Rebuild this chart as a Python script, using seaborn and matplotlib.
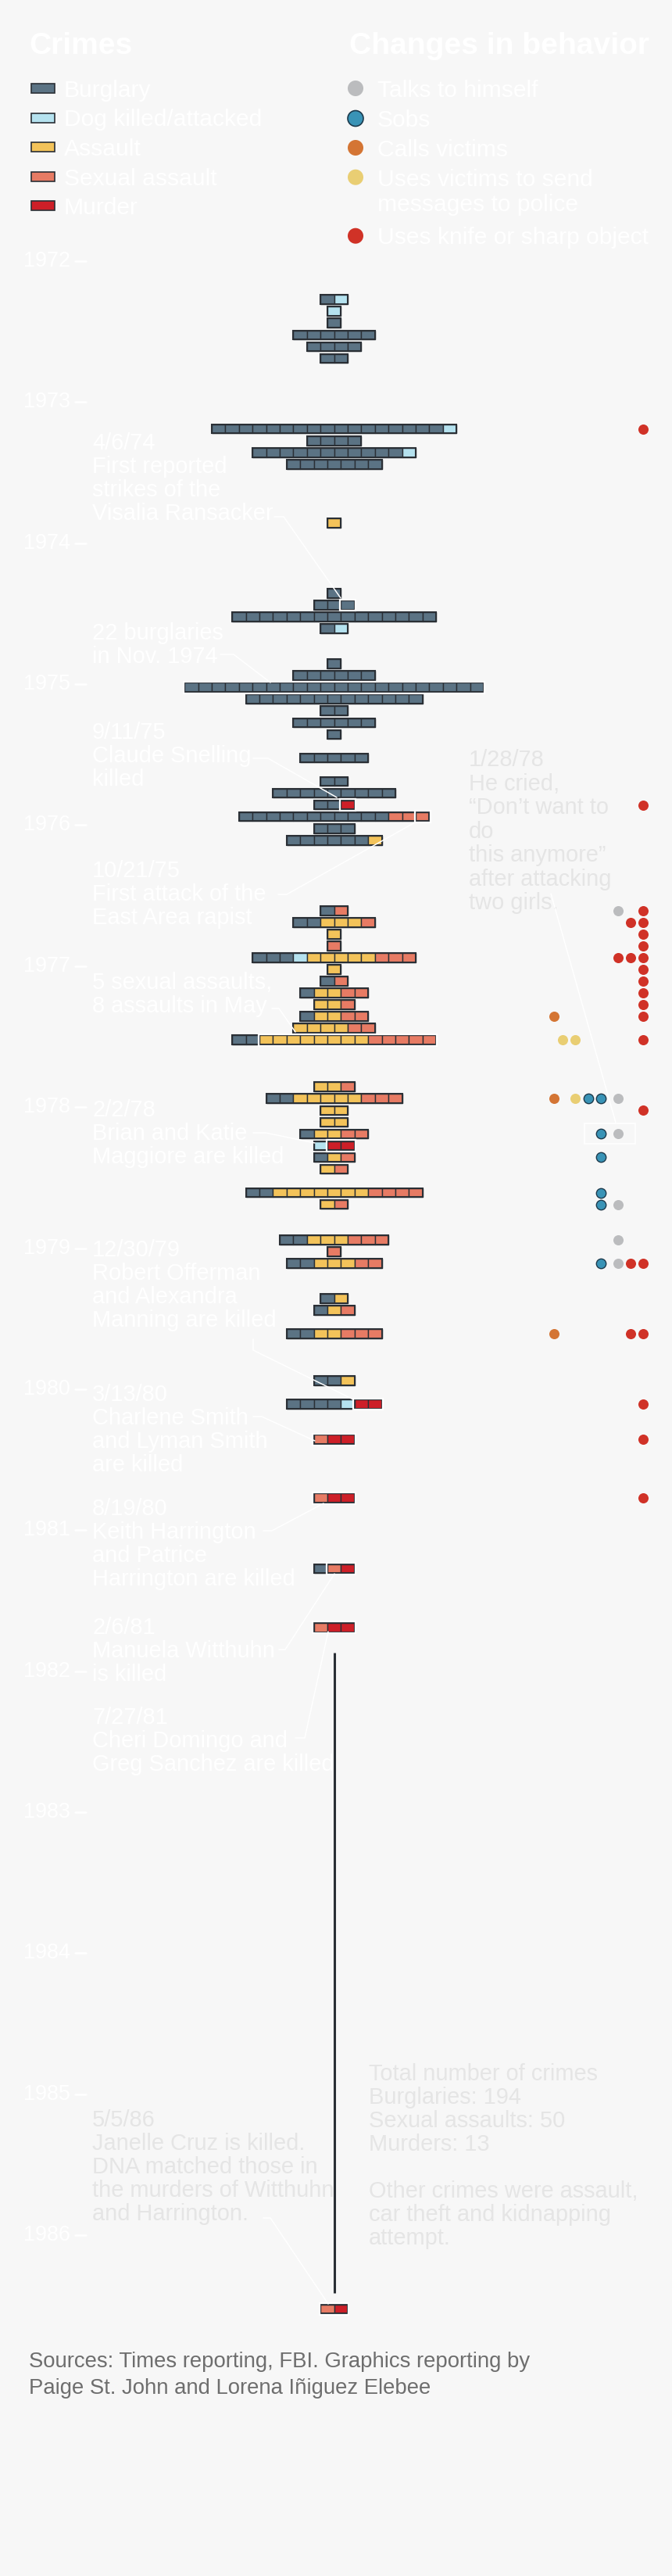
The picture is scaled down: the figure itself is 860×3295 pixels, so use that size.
import numpy as np
import pandas as pd
import matplotlib
matplotlib.use("Agg")
import matplotlib.pyplot as plt
import matplotlib.transforms as mtransforms
from matplotlib.lines import Line2D
from matplotlib.patches import Rectangle, Ellipse
from matplotlib import font_manager
import seaborn as sns

# ---------------------------------------------------------------------------
# data: one row per month with crimes (months counted from Jan 1972)
# ---------------------------------------------------------------------------
row_month = [3, 4, 5, 6, 7, 8, 14, 15, 16, 17, 22, 28, 29, 30, 31, 34, 35, 36, 37, 38,
             39, 40, 42, 44, 45, 46, 47, 48, 49, 55, 56, 57, 58, 59, 60, 61, 62, 63, 64,
             65, 66, 70, 71, 72, 73, 74, 75, 76, 77, 79, 80, 83, 84, 85, 88, 89, 91, 95,
             97, 100, 105, 111, 116, 174]
burglary = [1, 0, 1, 6, 4, 2, 17, 4, 11, 7, 0, 1, 3, 15, 1, 1, 6, 22, 13, 2,
            6, 1, 5, 2, 9, 2, 11, 3, 6, 1, 2, 0, 0, 3, 0, 1, 1, 0, 1,
            0, 2, 0, 2, 0, 0, 1, 0, 1, 0, 2, 0, 2, 0, 2, 1, 1, 2, 2,
            4, 0, 0, 1, 0, 0]
dog = [1, 1, 0, 0, 0, 0, 1, 0, 1, 0, 0, 0, 0, 0, 1, 0, 0, 0, 0, 0,
       0, 0, 0, 0, 0, 0, 0, 0, 0, 0, 0, 0, 0, 1, 0, 0, 0, 0, 0,
       0, 0, 0, 0, 0, 0, 0, 1, 0, 0, 0, 0, 0, 0, 0, 0, 0, 0, 0,
       1, 0, 0, 0, 0, 0]
assault = [0, 0, 0, 0, 0, 0, 0, 0, 0, 0, 1, 0, 0, 0, 0, 0, 0, 0, 0, 0,
           0, 0, 0, 0, 0, 0, 0, 0, 1, 0, 3, 1, 0, 5, 1, 0, 2, 2, 2,
           4, 8, 2, 5, 2, 2, 2, 0, 1, 1, 7, 1, 3, 0, 3, 1, 1, 2, 1,
           0, 0, 0, 0, 0, 0]
sexual = [0, 0, 0, 0, 0, 0, 0, 0, 0, 0, 0, 0, 0, 0, 0, 0, 0, 0, 0, 0,
          0, 0, 0, 0, 0, 0, 3, 0, 0, 1, 1, 0, 1, 3, 0, 1, 2, 1, 2,
          2, 5, 1, 3, 0, 0, 2, 0, 1, 1, 4, 1, 3, 1, 2, 0, 1, 3, 0,
          0, 1, 1, 1, 1, 1]
murder = [0, 0, 0, 0, 0, 0, 0, 0, 0, 0, 0, 0, 0, 0, 0, 0, 0, 0, 0, 0,
          0, 0, 0, 0, 0, 1, 0, 0, 0, 0, 0, 0, 0, 0, 0, 0, 0, 0, 0,
          0, 0, 0, 0, 0, 0, 0, 2, 0, 0, 0, 0, 0, 0, 0, 0, 0, 0, 0,
          2, 2, 2, 1, 2, 1]

# highlighted (annotated) crimes: month, first block in the row, number of blocks
hl_month = [29, 36, 46, 47, 66, 75, 97, 100, 105, 111, 116, 174]
hl_start = [2, 0, 2, 13, 2, 1, 5, 0, 0, 1, 0, 0]
hl_count = [1, 22, 1, 1, 13, 2, 2, 3, 3, 2, 3, 2]

# months without crimes between the 1981 and 1986 attacks
quiet_from, quiet_to = 118, 173

# changes in behaviour, counts per month
dot_month = [14, 46, 55, 56, 57, 58, 59, 60, 61, 62, 63, 64, 66, 71, 72, 74, 76, 79,
             80, 83, 85, 91, 97, 100, 105]
talks = [0, 0, 1, 0, 0, 0, 0, 0, 0, 0, 0, 0, 0, 1, 0, 1, 0, 0, 1, 1, 1, 0, 0, 0, 0]
sobs = [0, 0, 0, 0, 0, 0, 0, 0, 0, 0, 0, 0, 0, 2, 0, 1, 1, 1, 1, 0, 1, 0, 0, 0, 0]
calls = [0, 0, 0, 0, 0, 0, 0, 0, 0, 0, 0, 1, 0, 1, 0, 0, 0, 0, 0, 0, 0, 1, 0, 0, 0]
messages = [0, 0, 0, 0, 0, 0, 0, 0, 0, 0, 0, 0, 2, 1, 0, 0, 0, 0, 0, 0, 0, 0, 0, 0, 0]
knife = [1, 1, 1, 2, 1, 1, 3, 1, 1, 1, 1, 1, 1, 0, 1, 0, 0, 0, 0, 0, 2, 2, 1, 1, 1]

years = list(range(1972, 1987))

crimes = ['Burglary', 'Dog killed/attacked', 'Assault', 'Sexual assault', 'Murder']
behaviors = ['Talks to himself', 'Sobs', 'Calls victims',
             'Uses victims to send\nmessages to police', 'Uses knife or sharp object']

# ---------------------------------------------------------------------------
# style
# ---------------------------------------------------------------------------
BG = '#f7f7f7'
EDGE = '#2a2f35'
crime_pal = dict(zip(crimes, ['#5b7384', '#b5e2ef', '#f3c35a', '#e77b64', '#cd1f28']))
beh_pal = dict(zip(behaviors, ['#bbbcbe', '#3993b6', '#d47534', '#e9ce73', '#d03227']))
beh_anchor = dict(zip(behaviors, [790.5, 769, 709, 736, 822.5]))   # px, rightmost dot
DOT_STEP = 15.7

sns.set_theme(style='white')
names = {f.name for f in font_manager.fontManager.ttflist}
FONT = next((f for f in ['Liberation Sans', 'Roboto', 'DejaVu Sans'] if f in names), 'DejaVu Sans')
plt.rcParams['font.family'] = [FONT, 'DejaVu Sans']

W, H = 860, 3295
fig = plt.figure(figsize=(W / 100, H / 100), dpi=100, facecolor=BG)
ax = fig.add_axes([0, 0, 1, 1])
ax.set_facecolor(BG)
ax.axis('off')

# pixel layout transform (x right, y down)
PX = mtransforms.Affine2D().scale(0.01, -0.01).translate(0, H / 100) + fig.dpi_scale_trans

CX, BW = 427.6, 17.4      # centre line and block width in px
Y0, MH = 334, 15.03       # px of Jan 1972 and px per month
ROW_OFF, BH = 0.28, 0.78


def X(px):
    return (px - CX) / BW


def Ym(py):
    return (py - Y0) / MH


ax.set_xlim(X(0), X(W))
ax.set_ylim(Ym(H), Ym(0))
ax.set_autoscale_on(False)

# ---------------------------------------------------------------------------
# crime blocks
# ---------------------------------------------------------------------------
rows = pd.DataFrame({'month': row_month, 'Burglary': burglary, 'Dog killed/attacked': dog,
                     'Assault': assault, 'Sexual assault': sexual, 'Murder': murder})
rows['n'] = rows[crimes].sum(axis=1)

recs = []
for _, r in rows.iterrows():
    i = 0
    for c in crimes:
        for _ in range(int(r[c])):
            recs.append((r['month'], -r['n'] / 2 + i, c))
            i += 1
blocks = pd.DataFrame(recs, columns=['month', 'x', 'crime'])

for c in crimes:
    sub = blocks[blocks.crime == c]
    ax.barh(sub.month + ROW_OFF, 1, left=sub.x, height=BH, color=crime_pal[c],
            edgecolor=EDGE, linewidth=1.0, align='center', zorder=3)

# row outlines; annotated crimes get a white halo
hl = dict(zip(hl_month, zip(hl_start, hl_count)))
for _, r in rows.iterrows():
    n = int(r['n'])
    left = -n / 2
    s, c = hl.get(r['month'], (n, 0))
    for start, cnt in [(0, s), (s, c), (s + c, n - s - c)]:
        if cnt <= 0:
            continue
        ax.barh(r['month'] + ROW_OFF, cnt, left=left + start, height=BH, fill=False,
                edgecolor=EDGE, linewidth=1.5, zorder=4)
    if c > 0:
        ax.barh(r['month'] + ROW_OFF, c + 0.16, left=left + s - 0.08, height=BH + 0.2,
                fill=False, edgecolor='white', linewidth=1.6, zorder=4.5)

ax.vlines(0, quiet_from + 0.4, quiet_to - 0.1, color=EDGE, linewidth=2.2, zorder=3)

# ---------------------------------------------------------------------------
# behaviour dots
# ---------------------------------------------------------------------------
beh_counts = dict(zip(behaviors, [talks, sobs, calls, messages, knife]))
drecs = []
for b in behaviors:
    for m, cnt in zip(dot_month, beh_counts[b]):
        for j in range(cnt):
            drecs.append((X(beh_anchor[b] - j * DOT_STEP), m + ROW_OFF, b))
dots = pd.DataFrame(drecs, columns=['x', 'y', 'behavior'])
for b in behaviors:
    sub = dots[dots.behavior == b]
    if b == 'Sobs':
        sns.scatterplot(data=sub, x='x', y='y', color=beh_pal[b], s=80, edgecolor='#1d3a4c',
                        linewidth=1.0, ax=ax, legend=False, zorder=5)
    else:
        sns.scatterplot(data=sub, x='x', y='y', color=beh_pal[b], s=88, linewidth=0,
                        ax=ax, legend=False, zorder=5)
ax.set_xlim(X(0), X(W))
ax.set_ylim(Ym(H), Ym(0))
ax.axis('off')

# ---------------------------------------------------------------------------
# legends
# ---------------------------------------------------------------------------
def txt(x, yc, s, size_px, color, weight='normal'):
    ax.text(x, yc + 0.36 * size_px, s, transform=PX, fontsize=size_px * 0.72,
            color=color, ha='left', va='baseline', fontweight=weight, zorder=6)


def block_text(x, y0, lines, size_px, color, step=30):
    for i, t in enumerate(lines):
        txt(x, y0 + i * step, t, size_px, color)


def leader(xs, ys):
    ax.add_line(Line2D(xs, ys, transform=PX, color='white', linewidth=1.1, zorder=7))


txt(37, 55, 'Crimes', 39, 'white', 'bold')
txt(447, 55, 'Changes in behavior', 39, 'white', 'bold')

for i, c in enumerate(crimes):
    yc = 113 + i * 37.6
    fig.add_artist(Rectangle((39.5, yc - 6), 30, 12, transform=PX, facecolor=crime_pal[c],
                             edgecolor=EDGE, linewidth=1.2))
    txt(82, yc, c, 30, 'white')

beh_y = [113, 151.5, 189, 226.7, 301.7]
for b, yc in zip(behaviors, beh_y):
    fig.add_artist(Ellipse((455, yc), 20, 20, transform=PX, facecolor=beh_pal[b],
                           edgecolor='#1d3a4c' if b == 'Sobs' else 'none', linewidth=1.2))
    block_text(483, yc, b.split('\n'), 30, 'white', step=33)

# year ticks
ytf = mtransforms.blended_transform_factory(PX, ax.transData)
for yr in years:
    u = 12 * (yr - 1972)
    ax.text(30, u, str(yr), transform=ytf, fontsize=27 * 0.72, color='white',
            ha='left', va='center', zorder=6)
    ax.add_line(Line2D([96, 110], [u, u], transform=ytf, color='white', linewidth=1.8))

# ---------------------------------------------------------------------------
# annotations
# ---------------------------------------------------------------------------
notes = [
    (565, ['4/6/74', 'First reported', 'strikes of the', 'Visalia Ransacker'],
     [351, 363, 436], [661, 661, 765]),
    (808, ['22 burglaries', 'in Nov. 1974'], [282, 299, 346], [837, 837, 873]),
    (935, ['9/11/75', 'Claude Snelling', 'killed'], [324, 343, 431], [970, 970, 1020]),
    (1112, ['10/21/75', 'First attack of the', 'East Area rapist'],
     [356, 367, 531], [1144, 1144, 1052]),
    (1255, ['5 sexual assaults,', '8 assaults in May'], [348, 357, 378], [1290, 1290, 1320]),
    (1418, ['2/2/78', 'Brian and Katie', 'Maggiore are killed'],
     [324, 340, 403], [1449, 1449, 1462]),
    (1597, ['12/30/79', 'Robert Offerman', 'and Alexandra', 'Manning are killed'],
     [324, 324, 452], [1713, 1727, 1790]),
    (1782, ['3/13/80', 'Charlene Smith', 'and Lyman Smith', 'are killed'],
     [324, 335, 403], [1812, 1812, 1843]),
    (1928, ['8/19/80', 'Keith Harrington', 'and Patrice', 'Harrington are killed'],
     [337, 348, 414], [1958, 1958, 1923]),
    (2080, ['2/6/81', 'Manuela Witthuhn', 'is killed'], [357, 365, 428], [2110, 2110, 2013]),
    (2195, ['7/27/81', 'Cheri Domingo and', 'Greg Sanchez are killed'],
     [378, 390, 420], [2223, 2223, 2087]),
]
for y0, lines, lx, ly in notes:
    block_text(118, y0, lines, 29, 'white')
    leader(lx, ly)

GREY_TXT = '#e5e5e5'
block_text(118, 2710, ['5/5/86', 'Janelle Cruz is killed.', 'DNA matched those in',
                       'the murders of Witthuhn', 'and Harrington.'], 29, GREY_TXT)
leader([337, 346, 420], [2837, 2837, 2947])

block_text(600, 970, ['1/28/78', 'He cried,', '\u201cDon\u2019t want to', 'do',
                      'this anymore\u201d', 'after attacking', 'two girls.'], 29, GREY_TXT, step=30.5)
leader([705, 788], [1143, 1436])
fig.add_artist(Rectangle((748, 1437), 65, 26, transform=PX, fill=False,
                         edgecolor='white', linewidth=1.2))

block_text(472, 2651, ['Total number of crimes', 'Burglaries: 194', 'Sexual assaults: 50',
                       'Murders: 13', '', 'Other crimes were assault,',
                       'car theft and kidnapping', 'attempt.'], 29, GREY_TXT)

block_text(37, 3018, ['Sources: Times reporting, FBI. Graphics reporting by',
                      'Paige St. John and Lorena I\u00f1iguez Elebee'], 27.5, '#6e6e6e', step=34)

fig.savefig('out.png', dpi=100, facecolor=BG)
